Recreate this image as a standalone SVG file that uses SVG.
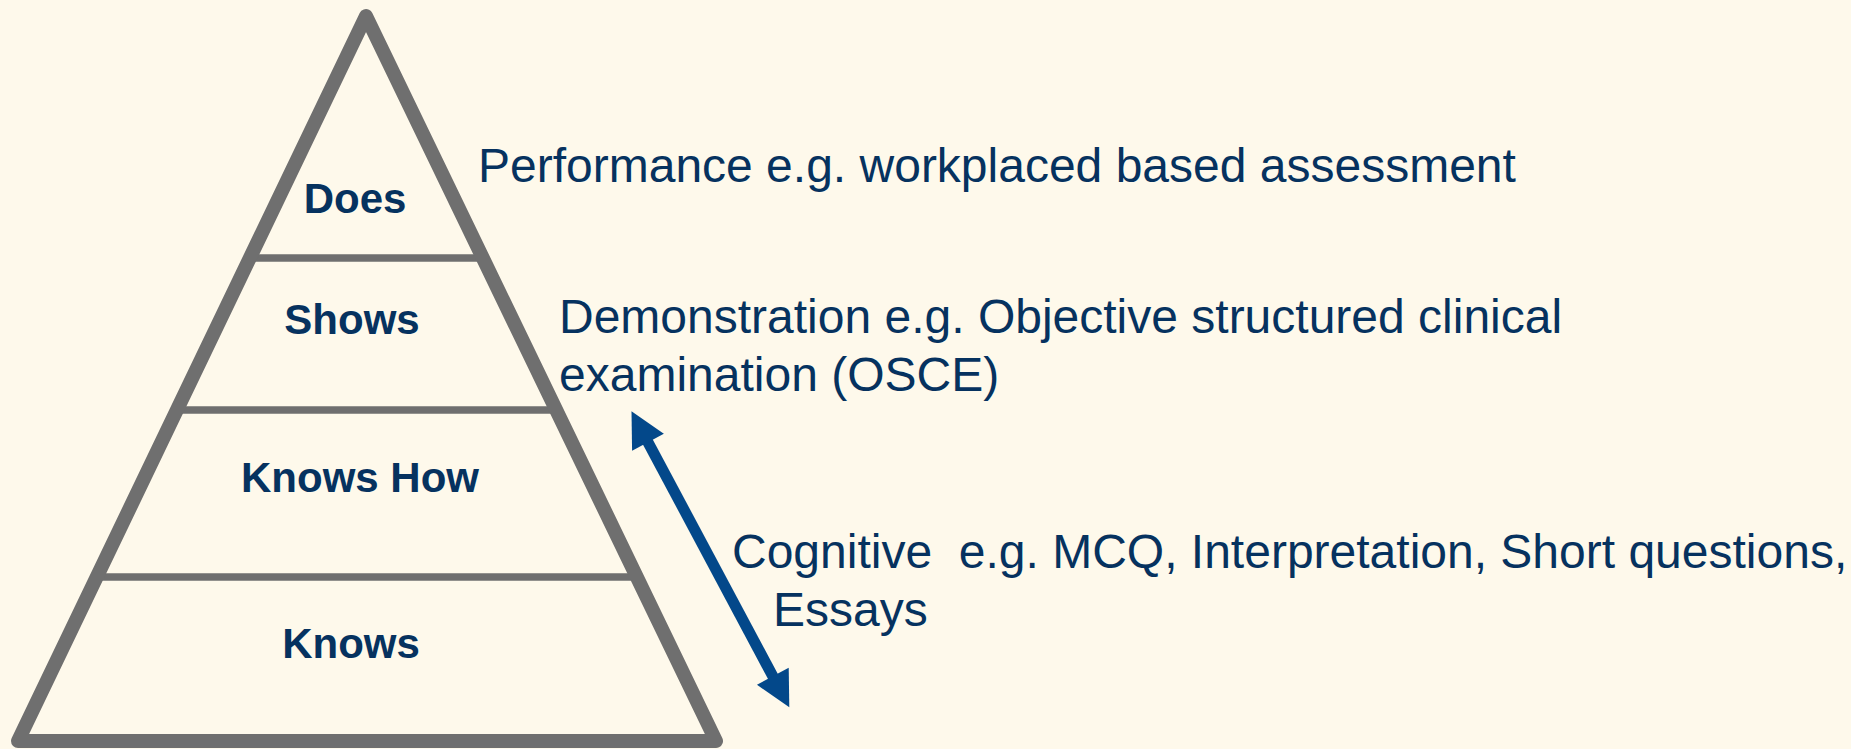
<svg xmlns="http://www.w3.org/2000/svg" width="1851" height="749" viewBox="0 0 1851 749">
  <style>
    .frame { fill: none; stroke: #6f6f6f; stroke-width: 14; stroke-linejoin: round; }
    .div { stroke: #6f6f6f; stroke-width: 7.5; }
    .lvl { font-family: "Liberation Sans", Arial, sans-serif; font-weight: bold; font-size: 42px; fill: #06325f; text-anchor: middle; }
    .note { font-family: "Liberation Sans", Arial, sans-serif; font-size: 48px; fill: #06325f; white-space: pre; }
    .arrow { stroke: #03488a; stroke-width: 11; fill: none; }
  </style>
  <defs>
    <marker id="head" markerUnits="userSpaceOnUse" orient="auto-start-reverse" markerWidth="40" markerHeight="40" refX="1" refY="20" viewBox="0 0 40 40" overflow="visible">
      <path d="M0,2 L35,20 L0,38 Z" fill="#03488a"/>
    </marker>
  </defs>
  <rect width="1851" height="749" fill="#fef9eb"/>

  <g id="pyramid">
    <line class="div" x1="250" y1="258" x2="483" y2="258"/>
    <line class="div" x1="177" y1="410" x2="556" y2="410"/>
    <line class="div" x1="97" y1="577" x2="637" y2="577"/>
    <polygon class="frame" points="366,16 716,741 18,741"/>
  </g>

  <g id="level-does"><text class="lvl" x="355" y="213">Does</text></g>
  <g id="level-shows"><text class="lvl" x="352" y="334">Shows</text></g>
  <g id="level-knows-how"><text class="lvl" x="360" y="492">Knows How</text></g>
  <g id="level-knows"><text class="lvl" x="351" y="658">Knows</text></g>

  <g id="note-performance">
    <text class="note" x="478" y="182">Performance e.g. workplaced based assessment</text>
  </g>
  <g id="note-demonstration">
    <text class="note" x="559" y="333">Demonstration e.g. Objective structured clinical</text>
    <text class="note" x="559" y="391">examination (OSCE)</text>
  </g>
  <g id="note-cognitive">
    <text class="note" x="732" y="568" xml:space="preserve">Cognitive  e.g. MCQ, Interpretation, Short questions,</text>
    <text class="note" x="773" y="626">Essays</text>
  </g>

  <g id="connectors">
    <line class="arrow" x1="647.5" y1="441.3" x2="773.3" y2="677.2" marker-start="url(#head)" marker-end="url(#head)"/>
  </g>
</svg>
